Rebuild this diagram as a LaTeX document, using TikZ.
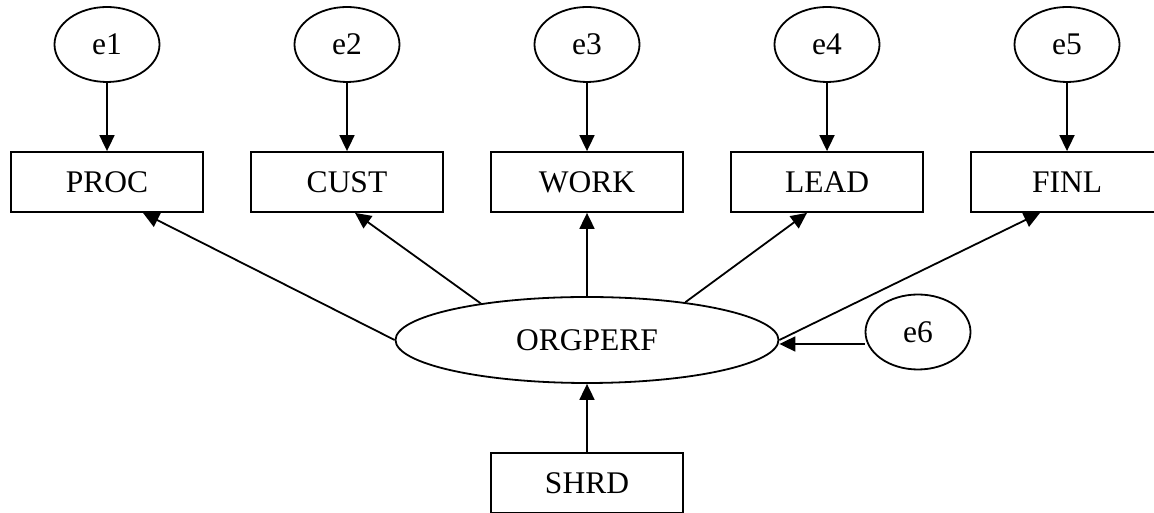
\documentclass[tikz,border=0pt]{standalone}
\usepackage{fontspec}
\setmainfont{Liberation Serif}
\usetikzlibrary{arrows.meta,positioning,shapes.geometric}

\begin{document}
\begin{tikzpicture}[x=1pt,y=1pt,
    every node/.style={font=\fontsize{31.5}{36}\selectfont},
    obs/.style={draw, line width=1.8pt, minimum width=192pt, minimum height=60pt, inner sep=0pt},
    errv/.style={draw, ellipse, line width=1.8pt, minimum width=105pt, minimum height=75pt, inner sep=0pt},
    lat/.style={draw, ellipse, line width=1.8pt, minimum width=383pt, minimum height=86pt, inner sep=0pt},
    reg/.style={line width=1.8pt, -{Triangle[length=16pt,width=15pt]}}]
        \useasboundingbox (0,0) rectangle (1154,513);
        \clip (0,0) rectangle (1154,513);
        % indicators with their error terms
        \foreach \n/\lbl/\x [count=\i] in {proc/PROC/107, cust/CUST/347, work/WORK/587, lead/LEAD/827, finl/FINL/1067} {
          \node[obs] (\n) at (\x,331) {\lbl};
          \node[errv] (e\i) at (\x,468.5) {e\i};
          \draw[reg] (e\i) -- (\n);
        }
        \node[lat] (orgperf) at (587,173) {ORGPERF};
        \node[obs] (shrd) at (587,30) {SHRD};
        \node[errv] (e6) at (918,181) {e6};
        % loadings
        \draw[reg] (orgperf.west) -- ([xshift=36pt]proc.south);
        \draw[reg] (orgperf.161) -- ([xshift=8pt]cust.south);
        \draw[reg] (orgperf) -- (work);
        \draw[reg] (orgperf.21) -- ([xshift=-20pt]lead.south);
        \draw[reg] (orgperf.east) -- ([xshift=-27pt]finl.south);
        \draw[reg] (shrd) -- (orgperf);
        \draw[reg] ([yshift=-12pt]e6.west) -- ([yshift=-4pt]orgperf.east);
      \end{tikzpicture}
\end{document}
